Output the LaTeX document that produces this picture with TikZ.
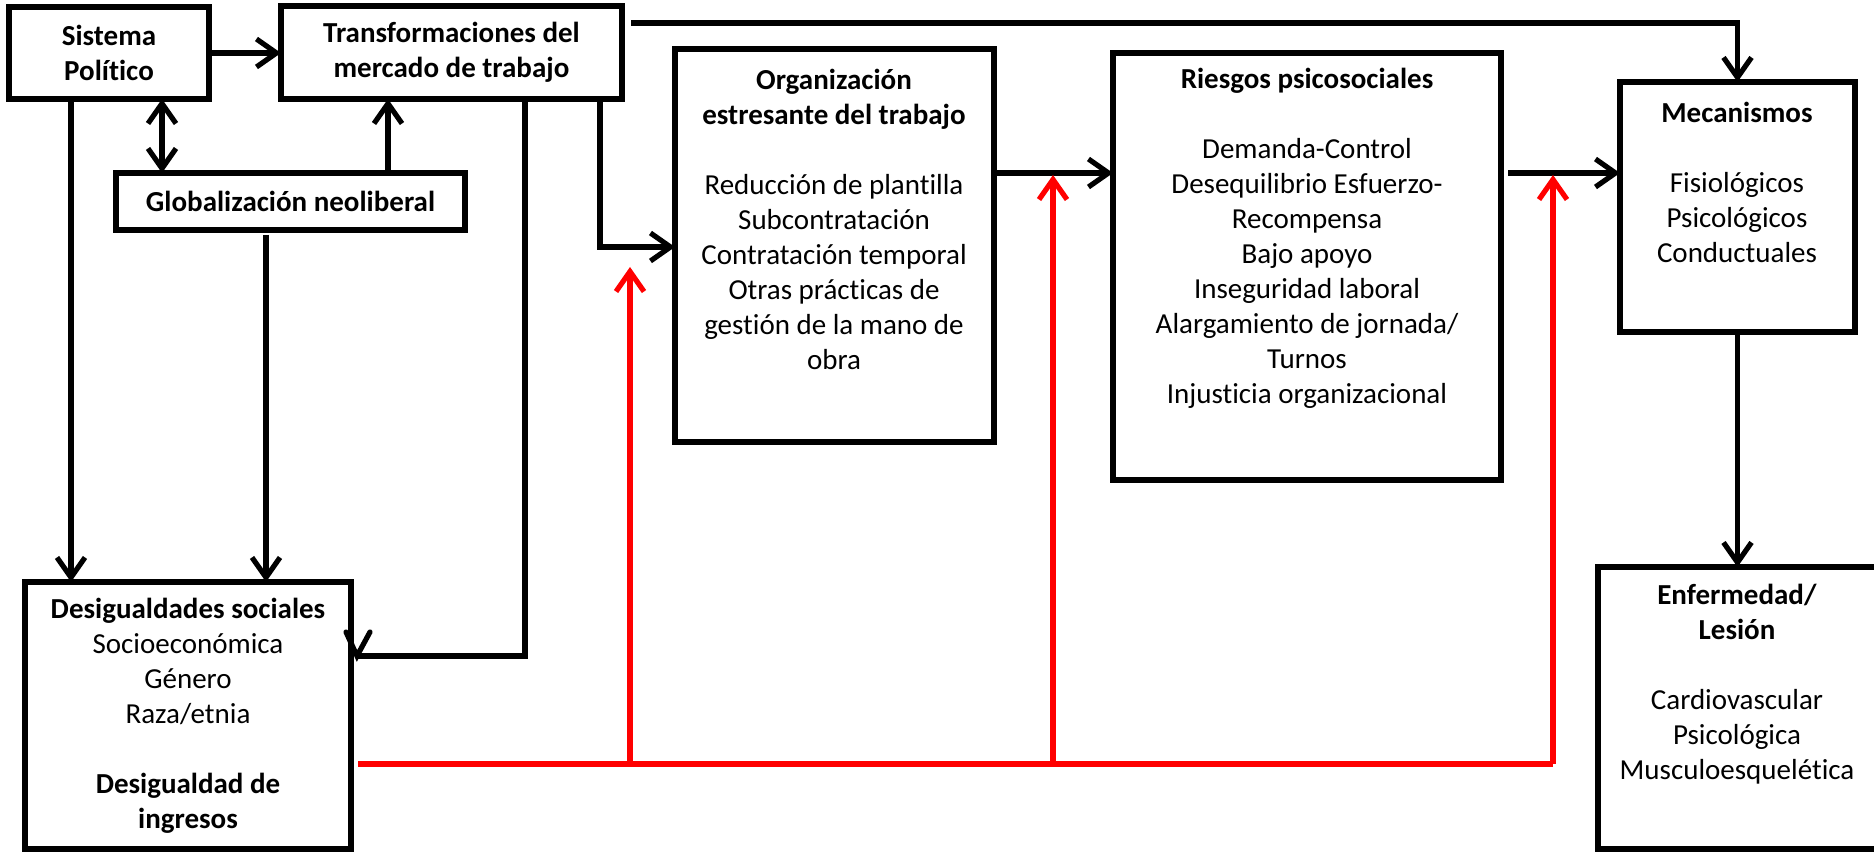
\documentclass[tikz,border=0pt]{standalone}
\usepackage{fontspec}
\setmainfont{Carlito}[Ligatures=NoCommon]
\usetikzlibrary{arrows.meta,calc}
\begin{document}
\begin{tikzpicture}[x=0.5pt,y=-0.5pt,
  every node/.style={font=\fontsize{14.5}{17.5}\selectfont},
  box/.style={draw=black,line width=2.6pt,inner sep=0pt,outer sep=0pt,align=center,anchor=north west},
  txt/.style={align=center,inner sep=0pt},
  conn/.style={draw=black,line width=2.6pt,line join=miter},
  arr/.style={conn,-{Straight Barb[length=10pt,width=14pt]}},
  biarr/.style={conn,{Straight Barb[length=10pt,width=14pt]}-{Straight Barb[length=10pt,width=14pt]}},
  redl/.style={draw={rgb,255:red,255;green,0;blue,0},line width=2.6pt},
  redarr/.style={redl,-{Straight Barb[length=10pt,width=14pt]}}
]
\useasboundingbox (0,0) rectangle (1874,854);
\fill[white] (0,0) rectangle (1874,854);

% boxes
\node[box,font=\fontsize{14.5}{17.5}\selectfont\bfseries,minimum width=100pt,minimum height=46pt] (sis) at (9,7) {Sistema\\Político};
\node[box,font=\fontsize{14.5}{17.5}\selectfont\bfseries,minimum width=170.5pt,minimum height=46.5pt] (tra) at (281,6) {Transformaciones del\\mercado de trabajo};
\node[box,font=\fontsize{14.5}{17.5}\selectfont\bfseries,minimum width=174.5pt,minimum height=28.5pt] (glo) at (116,173) {Globalización neoliberal};
\node[box,minimum width=159.5pt,minimum height=196.5pt] (org) at (675,49) {};
\node[box,minimum width=194pt,minimum height=213.5pt] (rie) at (1113,53) {};
\node[box,minimum width=117.5pt,minimum height=125pt] (mec) at (1620,82) {};
\node[box,minimum width=163pt,minimum height=133.5pt] (des) at (25,582) {};
\node[box,minimum width=145pt,minimum height=141pt] (enf) at (1598,567) {};

% texts
\node[txt] (orgT) at (834,219.5) {\textbf{Organización}\\\textbf{estresante del trabajo}\\[17.5pt]Reducción de plantilla\\Subcontratación\\Contratación temporal\\Otras prácticas de\\gestión de la mano de\\obra};
\node[txt] (rieT) at (1307,238.5) {\textbf{Riesgos psicosociales}\\[17.5pt]Demanda-Control\\Desequilibrio Esfuerzo-\\Recompensa\\Bajo apoyo\\Inseguridad laboral\\Alargamiento de jornada/\\Turnos\\Injusticia organizacional};
\node[txt] (mecT) at (1737,182) {\textbf{Mecanismos}\\[17.5pt]Fisiológicos\\Psicológicos\\Conductuales};
\node[txt] (desT) at (188,716) {\textbf{Desigualdades sociales}\\Socioeconómica\\Género\\Raza/etnia\\[17.5pt]\textbf{Desigualdad de}\\\textbf{ingresos}};
\node[txt] (enfT) at (1737,684.5) {\textbf{Enfermedad/}\\\textbf{Lesión}\\[17.5pt]Cardiovascular\\Psicológica\\Musculoesquelética};

% black connectors
\draw[arr] (sis.east) -- (sis.east -| tra.west);
\draw[biarr] ($(glo.north west)+(46,0)$) coordinate (b1) -- (b1 |- sis.south);
\draw[arr] ($(glo.north west)+(272,0)$) coordinate (b2) -- (b2 |- tra.south);
\draw[arr] ($(sis.south west)+(62,0)$) coordinate (b3) -- (b3 |- des.north);
\draw[arr] ($(glo.south west)+(150,5)$) coordinate (b4) -- (b4 |- des.north);
\coordinate (dend) at (357,656);
\draw[conn] ($(tra.south west)+(244,0)$) coordinate (b5) |- (dend);
\draw[conn,line cap=round] ($(dend)+(-11,-24)$) -- (dend) -- ($(dend)+(13,-24)$);
\coordinate (b6) at ($(tra.south west)+(319,0)$);
\coordinate (b6e) at ($(tra.south west)+(319,148)$);
\draw[arr] (b6) -- (b6e) -- (b6e -| org.west);
\draw[arr] ($(tra.north east)+(9,17)$) -| (mec.north);
\draw[arr] (org.east |- 0,173) coordinate (b7) -- (b7 -| rie.west);
\draw[arr] ($(rie.east |- 0,173)+(7,0)$) coordinate (b8) -- (b8 -| mec.west);
\draw[arr] (mec.south) -- (mec.south |- enf.north);

% red connectors
\coordinate (rs) at (358,764);
\coordinate (re) at (1553,764);
\coordinate (t1) at (630,267);
\coordinate (t2) at (1053,175);
\coordinate (t3) at (1553,175);
\draw[redl] (rs) -- (re);
\draw[redarr] (t1 |- rs) -- (t1);
\draw[redarr] (t2 |- rs) -- (t2);
\draw[redarr] (re) -- (t3);
\end{tikzpicture}
\end{document}
